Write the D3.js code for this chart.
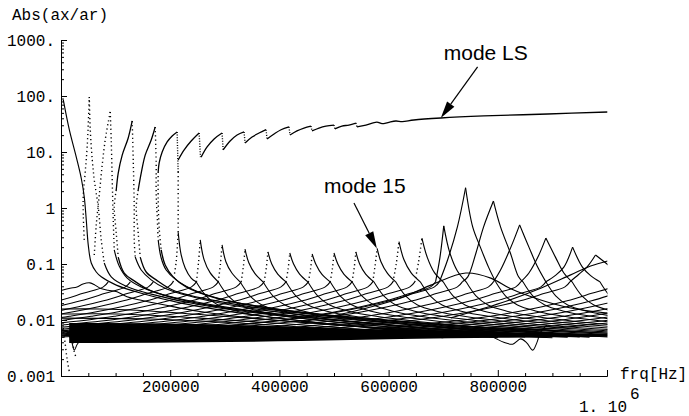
<!DOCTYPE html>
<html><head><meta charset="utf-8">
<script src="https://cdn.jsdelivr.net/npm/d3@7/dist/d3.min.js"></script>
<style>html,body{margin:0;padding:0;background:#fff}svg{display:block}</style>
</head><body>
<svg id="chart" width="689" height="416"></svg>
<script>
// ================= DATA (frequency in kHz, value = Abs(ax/ar)) =================
const yTickValues = [0.001, 0.01, 0.1, 1, 10, 100, 1000];
const yTickLabels = ["0.001", "0.01", "0.1", "1", "10.", "100.", "1000."];
const xTickValues = [200000, 400000, 600000, 800000, 1000000];
const xTickLabels = ["200000", "400000", "600000", "800000", ""];

// mode LS : solid rising pieces between mode crossings
const lsSolid = [
  [[130.4,35.8],[123.1,17.8],[112.1,8.8],[104.8,4.2],[101.2,2.1]],
  [[104.8,0.133],[115.8,0.069],[134.1,0.050],[165.2,0.033],[238.4,0.021],[366.5,0.0135],[586,0.0085],[800,0.0055]],
  [[172.5,28],[165.2,16.4],[154.2,8.8],[146.9,4.2],[141.4,2.1]],
  [[145.1,0.133],[156.0,0.072],[174.3,0.052],[205.4,0.034],[274.9,0.0228],[403,0.0145],[622.5,0.0088],[850,0.0055]],
  [[212.7,22.8],[203.6,19.3],[194.4,15.1],[185.3,10.0],[179.8,6.4],[178.0,4.4]],
  [[183.5,0.178],[190.8,0.096],[205.4,0.059],[229.2,0.039],[284.1,0.0247],[403,0.0152],[622.5,0.0095],[900,0.0058]],
  [[214.6,7.2],[225.6,10.9],[238.4,15.7],[253,21.8]],
  [[256.6,8.1],[267.6,12.3],[280.4,17.1],[295,21.8]],
  [[297,10.9],[309.7,15.7],[322.5,20.1],[335.3,22.8]],
  [[337.1,14.5],[349.9,18.5],[362.7,21.8],[375.5,25]],
  [[377.4,17.1],[390.2,21],[403,25],[417.6,28]],
  [[419.4,20.1],[432.2,23.8],[445,26.8],[457.8,29]],
  [[459.7,23.8],[472.5,26.8],[485.3,29],[500,30.3]],
  [[501.7,25.8],[514.5,29],[527.3,30.3],[540.1,32.9]],
  [[542,28],[558.4,30.3],[578.5,34.2],[588,32],[598.7,33.5],[613.3,35.8],[625,34.8],[646.2,37.3],[695.6,40.5],[774.3,44],[891.4,47.7],[1001,51.8]]
];
// mode LS : steep (sparsely sampled) pieces
const lsDotted = [
  [[42.6,0.27],[40.8,0.75],[40.8,1.7],[44.4,4.4],[48.1,13.3],[51.8,96]],
  [[60.9,0.145],[64.6,0.50],[70.1,1.7],[75.5,5.9],[81.0,16.4],[86.5,34],[90.2,52]],
  [[101.2,2.1],[97.5,1.04],[101.2,0.36],[104.8,0.133]],
  [[141.4,2.1],[137.8,1.04],[141.4,0.36],[145.1,0.133]],
  [[178.0,4.4],[178.0,1.39],[179.8,0.44],[183.5,0.178]]
];
// mode LS : jumps at the mode crossings
const lsJumps = [
  [[212.7,22.8],[214.6,4.4]],
  [[253,21.8],[255.5,8.1]],
  [[295,21.8],[297,10.9]],
  [[335.3,22.8],[337.1,14.5]],
  [[375.5,25],[377.4,17.1]],
  [[417.6,28],[419.4,20.1]],
  [[457.8,29],[459.7,23.8]],
  [[500,30.3],[501.7,25.8]],
  [[540.1,32.9],[542,28]]
];
// low modes : steep drop from the LS level
const earlyDotted = [
  [[51.8,96],[53.6,25],[57.3,7.2],[60.9,3.2],[68.2,1.04],[73.7,0.27],[79.2,0.104]],
  [[90.2,52],[92.0,16.4],[93.8,3.2],[95.7,0.61],[97.5,0.178]],
  [[130.4,35.8],[132.3,7.2],[134.1,1.04],[134.1,0.27],[135.9,0.133]],
  [[172.5,28],[174.3,6.4],[174.3,1.85],[176.2,0.69],[178.0,0.27]],
  [[214.6,4.4],[214.6,1.39],[214.6,0.37]]
];
// low modes : decaying tails (sink into the dense band on the right)
const earlySweeps = [
  [[4.2,85],[15.2,25],[28.0,8.1],[37.1,3.4],[42.6,1.57],[46.3,0.61],[49.9,0.22],[55.4,0.104],[64.6,0.072],[73.7,0.059],[101.2,0.042],[146.9,0.030],[220.1,0.020],[348.1,0.0125],[531,0.0078],[713.9,0.0052]],
  [[79.2,0.104],[92.0,0.059],[119.4,0.040],[165.2,0.029],[256.6,0.0185],[403,0.0118],[622.5,0.0072],[850,0.005]],
  [[97.5,0.178],[106.6,0.092],[121.3,0.056],[146.9,0.039],[201.8,0.026],[311.5,0.0165],[476.1,0.0105],[713.9,0.0066],[950,0.005]],
  [[135.9,0.133],[146.9,0.078],[165.2,0.052],[192.6,0.036],[256.6,0.0237],[366.5,0.0152],[531,0.0102],[768.7,0.0068],[1001,0.0052]],
  [[178.0,0.27],[183.5,0.128],[192.6,0.078],[210.9,0.052],[247.5,0.033],[311.5,0.0215],[439.5,0.0138],[622.5,0.0092],[1001,0.0058]]
];
// resonance peaks of modes 6..24 : left flank (to peak) and right flank (from peak)
const modeCapLeft = [
  [[205.4,0.048],[210.9,0.109],[214.6,0.37]],
  [[248,0.048],[252,0.11],[255,0.27]],
  [[288,0.048],[292,0.10],[295,0.22]],
  [[330,0.048],[334,0.09],[337,0.185]],
  [[372,0.048],[376,0.085],[379,0.164]],
  [[412,0.048],[416,0.082],[419,0.157]],
  [[453,0.048],[457,0.08],[460,0.151]],
  [[493,0.048],[497,0.082],[500,0.157]],
  [[533,0.048],[537,0.085],[540,0.164]],
  [[571,0.048],[575,0.09],[579,0.19]],
  [[608,0.048],[614,0.10],[619,0.25]],
  [[648,0.048],[655,0.11],[661,0.29]],
  [[686,0.048],[694,0.13],[701,0.48]],
  [[693,0.048],[708,0.118],[726,0.46],[741,2.3]],
  [[735,0.048],[745,0.059],[760,0.157],[774,0.46],[792,1.33]],
  [[792,0.048],[805,0.078],[824,0.2],[840,0.5]],
  [[842,0.048],[857,0.069],[873,0.13],[888,0.29]],
  [[888,0.048],[905,0.062],[921,0.088],[937,0.2]],
  [[932,0.048],[948,0.065],[964,0.09],[979,0.145]]
];
const modeCapRight = [
  [[214.6,0.37],[220.1,0.145],[227.4,0.085],[238.4,0.056],[247.5,0.048]],
  [[255,0.27],[262,0.12],[273,0.07],[288,0.048]],
  [[295,0.22],[302,0.11],[313,0.069],[328,0.048]],
  [[337,0.185],[344,0.105],[355,0.068],[370,0.048]],
  [[379,0.164],[386,0.10],[397,0.066],[412,0.048]],
  [[419,0.157],[426,0.10],[437,0.066],[452,0.048]],
  [[460,0.151],[467,0.098],[478,0.065],[493,0.048]],
  [[500,0.157],[507,0.10],[518,0.066],[533,0.048]],
  [[540,0.164],[547,0.10],[558,0.066],[573,0.048]],
  [[579,0.19],[586,0.11],[598,0.068],[613,0.048]],
  [[619,0.25],[628,0.12],[641,0.07],[658,0.048]],
  [[661,0.29],[671,0.13],[684,0.07],[700,0.048]],
  [[701,0.48],[712,0.16],[726,0.075],[742,0.048]],
  [[741,2.3],[754,0.46],[768,0.2],[783,0.088],[796,0.048]],
  [[792,1.33],[805,0.46],[823,0.157],[838,0.059],[846,0.048]],
  [[840,0.5],[857,0.2],[873,0.088],[888,0.048]],
  [[888,0.29],[906,0.13],[921,0.069],[936,0.048]],
  [[937,0.2],[955,0.088],[970,0.062],[987,0.048]],
  [[979,0.145],[1000,0.10],[1020,0.07],[1040,0.048]]
];
const modeSteepLeft = [true,true,true,true,true,true,true,true,true,true,true,true,false,false,false,false,false,false,false];
// shape of the low-level flanks read from the lattice (kHz offset from foot, value)
const riseOffsets = [-768,-585,-457,-366,-274,-229,-183,-137,-91,-46,-9,0];
const riseValues  = [0.0048,0.0058,0.0068,0.0082,0.0102,0.0118,0.014,0.0172,0.022,0.03,0.039,0.048];
const descOffsets = [0,18,40,73,128,201,311,457,640];
const descValues  = [0.048,0.027,0.0185,0.0145,0.0115,0.0094,0.0076,0.0062,0.0049];
// feet of rising flanks of low modes and of modes above 1 MHz
const extraRiseFeet = [86.5,127,169,1018,1063,1108,1153,1198,1243,1288,1333];

// other curves
const wavyLine = [[1.8,0.034],[16.5,0.037],[29.3,0.039],[40.3,0.044],[53.1,0.046],[62.3,0.042],[71.4,0.037],[86.1,0.034],[102.6,0.032],[120.9,0.026],[144.7,0.0228],[190.5,0.0185],[254.6,0.0142],[364.5,0.0105],[529.3,0.0078],[712.5,0.0058],[900,0.0048]];
const flatLines = [
  [[1.8,0.0157],[71.4,0.0157],[163,0.0145],[254.6,0.0125],[437.7,0.0092],[620.9,0.0068],[800,0.005]],
  [[1.8,0.0128],[108.1,0.0128],[254.6,0.0108],[437.7,0.0082],[650,0.0058],[800,0.0048]],
  [[1.8,0.0108],[163,0.0104],[346.1,0.0086],[560,0.0062],[700,0.0048]]
];
const bandFreq  = [15, 74, 257, 440, 622, 805, 1000];
const bandUpper = [0.0088, 0.0088, 0.0085, 0.0075, 0.0066, 0.0061, 0.0056];
const bandLower = [0.0039, 0.0039, 0.0040, 0.0042, 0.0046, 0.0048, 0.0050];
const humpA = [[439.5,0.0092],[531,0.0139],[622.5,0.0247],[677.4,0.042],[741.4,0.069],[787.2,0.056],[823.8,0.036],[878.6,0.0228],[933.5,0.0164],[1001,0.0133]];
const humpB = [[714,0.0109],[805.4,0.0201],[878.6,0.037],[933.5,0.064],[970,0.092],[1001,0.113]];
const dipCurve = [[787.2,0.0052],[811,0.0040],[827.3,0.0037],[842,0.0046],[853,0.0039],[864,0.0029],[871.4,0.0039],[878.6,0.0061],[889.6,0.0081]];
const leftDip = [[11.5,0.0061],[18.8,0.0044],[24.3,0.0029],[29.8,0.0037],[37.1,0.0044]];
const leftTails = [
  [[4.2,0.0072],[7.9,0.0036],[11.5,0.0019],[15.2,0.0012]],
  [[15.2,0.0078],[20.7,0.0044],[24.3,0.0027],[28.0,0.0021]]
];
// annotations
const annotationText = ["mode LS", "mode 15"];
const annotationPos  = [[701, 440], [481.6, 1.85]];
const arrowTail = [[763, 330], [536.6, 1.23]];
const arrowTip  = [[695.6, 40.5], [578.5, 0.19]];

// ================= DRAWING =================
const svg = d3.select("#chart");
svg.append("rect").attr("width", 689).attr("height", 416).attr("fill", "#fff");
const x = d3.scaleLinear().domain([0, 1e6]).range([61, 607]);
const y = d3.scaleLog().domain([0.001, 1000]).range([376, 40]);
const X = d => x(d[0] * 1000), Y = d => y(d[1]);
const line = d3.line().x(X).y(Y).curve(d3.curveCatmullRom.alpha(0.5));

svg.append("defs").append("clipPath").attr("id", "clip")
  .append("rect").attr("x", 61).attr("y", 30).attr("width", 546.5).attr("height", 346);
const g = svg.append("g").attr("clip-path", "url(#clip)");

function solid(arr, w) {
  g.append("path").datum(arr).attr("d", line).attr("fill", "none")
    .attr("stroke", "#000").attr("stroke-width", w || 1.05).attr("stroke-linejoin", "round");
}
function dotted(arr, dash) {
  g.append("path").datum(arr).attr("d", line).attr("fill", "none")
    .attr("stroke", "#000").attr("stroke-width", 1.4).attr("stroke-dasharray", dash || "1.2,3");
}

// dense low band
const band = d3.area().x((d, i) => x(bandFreq[i] * 1000)).y0((d, i) => y(bandLower[i])).y1((d, i) => y(bandUpper[i]))
  .curve(d3.curveMonotoneX);
g.append("path").datum(bandFreq).attr("d", band).attr("fill", "#000");

flatLines.forEach(a => solid(a));
solid(wavyLine);
earlySweeps.forEach(a => solid(a, 1.15));
lsSolid.forEach(a => solid(a, 1.3));
lsDotted.forEach(a => dotted(a));
lsJumps.forEach(a => dotted(a, "1,1.6"));
earlyDotted.forEach(a => dotted(a));

modeCapLeft.forEach((cap, i) => {
  const foot = cap[0][0];
  solid(riseOffsets.map((o, j) => [foot + o, riseValues[j]]));
  if (modeSteepLeft[i]) dotted(cap); else solid(cap, 1.15);
});
modeCapRight.forEach(cap => {
  solid(cap, 1.15);
  const foot = cap[cap.length - 1][0];
  solid(descOffsets.map((o, j) => [foot + o, descValues[j]]));
});
extraRiseFeet.forEach(foot => solid(riseOffsets.map((o, j) => [foot + o, riseValues[j]])));

solid(humpA, 1.15); solid(humpB, 1.15); solid(dipCurve); solid(leftDip);
leftTails.forEach(a => dotted(a));

// axes
const fontMono = "'Liberation Mono', 'Courier New', monospace";
function styleAxis(sel) {
  sel.attr("font-family", fontMono).attr("font-size", 16);
  sel.selectAll("text").attr("fill", "#000");
  sel.selectAll("line,path").attr("stroke", "#000");
}
const yMinor = [];
[0.001, 0.01, 0.1, 1, 10, 100].forEach(d => d3.range(2, 10).forEach(k => yMinor.push(k * d)));
svg.append("g").attr("transform", "translate(61,0)")
  .call(d3.axisLeft(y).tickValues(yMinor).tickFormat("").tickSizeInner(-3).tickSizeOuter(0))
  .call(styleAxis);
svg.append("g").attr("transform", "translate(61,0)")
  .call(d3.axisLeft(y).tickValues(yTickValues).tickFormat((d, i) => yTickLabels[i]).tickSizeInner(-6).tickSizeOuter(0).tickPadding(6))
  .call(styleAxis);

const xMinor = d3.range(50000, 1000000, 50000).filter(v => v % 200000 !== 0);
svg.append("g").attr("transform", "translate(0,376)")
  .call(d3.axisBottom(x).tickValues(xMinor).tickFormat("").tickSizeInner(-3).tickSizeOuter(0))
  .call(styleAxis);
svg.append("g").attr("transform", "translate(0,376)")
  .call(d3.axisBottom(x).tickValues(xTickValues).tickFormat((d, i) => xTickLabels[i]).tickSizeInner(-6).tickSizeOuter(0).tickPadding(5))
  .call(styleAxis);

const txt = (s, px, py, anchor, size, fam) => svg.append("text").text(s).attr("x", px).attr("y", py)
  .attr("text-anchor", anchor || "start").attr("font-family", fam || fontMono).attr("font-size", size || 16).attr("fill", "#000");
txt("Abs(ax/ar)", 12, 20);
txt("frq[Hz]", 620, 379);
txt("1. 10", x(1e6) - 4, 412, "middle");
txt("6", x(1e6) + 23, 399);

// annotations with arrows
const fontSans = "'Liberation Sans', Arial, Helvetica, sans-serif";
annotationText.forEach((t, i) => {
  txt(t, X(annotationPos[i]), Y(annotationPos[i]), "start", 21, fontSans);
  const x0 = X(arrowTail[i]), y0 = Y(arrowTail[i]), x1 = X(arrowTip[i]), y1 = Y(arrowTip[i]);
  const ang = Math.atan2(y1 - y0, x1 - x0), L = 17, Wd = 4.5;
  const bx = x1 - L * Math.cos(ang), by = y1 - L * Math.sin(ang);
  svg.append("line").attr("x1", x0).attr("y1", y0).attr("x2", bx).attr("y2", by).attr("stroke", "#000").attr("stroke-width", 1.2);
  svg.append("path").attr("d", `M${x1},${y1}L${bx + Wd * Math.sin(ang)},${by - Wd * Math.cos(ang)}L${bx - Wd * Math.sin(ang)},${by + Wd * Math.cos(ang)}Z`).attr("fill", "#000");
});
</script>
</body></html>
